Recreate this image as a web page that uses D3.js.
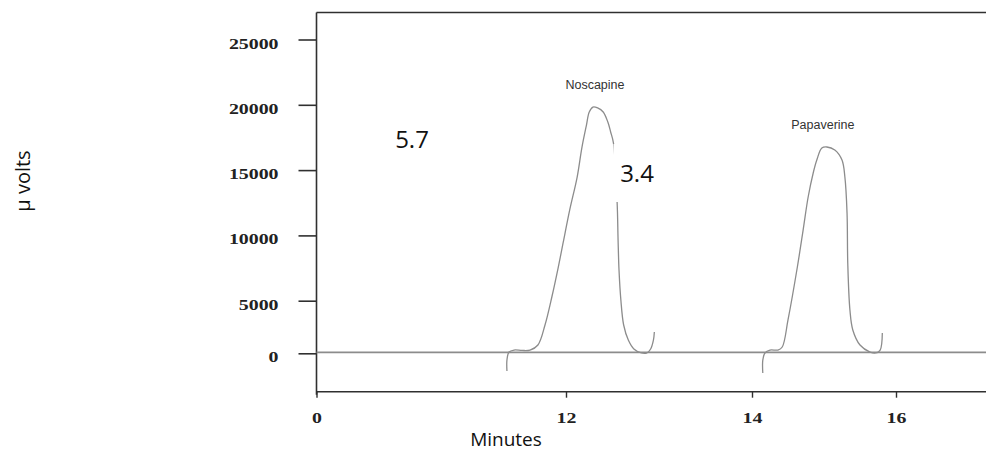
<!DOCTYPE html>
<html>
<head>
<meta charset="utf-8">
<script src="https://cdn.jsdelivr.net/npm/d3@7"></script>
<style>
  html, body { margin: 0; padding: 0; background: #ffffff; }
  svg { display: block; }
</style>
</head>
<body>
<svg id="chart" width="986" height="454"></svg>
<script>
// ---------------- DATA ----------------
const xTicks = [0, 12, 14, 16];
const yTicks = [0, 5000, 10000, 15000, 20000, 25000];
const xLabel = "Minutes";
const yLabel = "µ volts";

// baseline trace (minutes, µV)
const baselineTime = [0, 17.3];
const baselineVolt = [80, 80];

// Noscapine trace
const noscapineTime = [9.16, 9.16, 9.26, 9.50, 9.89, 10.27, 10.65, 10.99, 11.33, 11.62, 11.86,
  12.04, 12.12, 12.17, 12.22, 12.25, 12.29, 12.34, 12.40, 12.45, 12.48, 12.51, 12.55, 12.56,
  12.57, 12.59, 12.62, 12.67, 12.73, 12.81, 12.87, 12.91, 12.94, 12.95];
const noscapineVolt = [-1680, -640, 120, 310, 270, 310, 790, 2690, 5360, 7500, 9420,
  11950, 14470, 16690, 18450, 19450, 19830, 19760, 19450, 18680, 17920, 17080, 12480, 9650,
  7350, 5050, 2690, 1260, 410, 30, 30, 410, 1260, 2030];

// Papaverine trace
const papaverineTime = [14.15, 14.15, 14.18, 14.25, 14.36, 14.42, 14.50, 14.63, 14.71, 14.78,
  14.85, 14.90, 14.97, 15.04, 15.15, 15.25, 15.29, 15.32, 15.33, 15.36, 15.40, 15.50, 15.64,
  15.72, 15.78, 15.81];
const papaverineVolt = [-1870, -640, 30, 310, 310, 600, 3170, 7580, 10410, 12940,
  14780, 15770, 16690, 16770, 16540, 15770, 14470, 11720, 7890, 4120, 2220, 790, 120,
  30, 310, 1930];

const peakNames = ["Noscapine", "Papaverine"];
const peakTimes = [12.29, 15.04];
const peakVolts = [19830, 16770];

const annotations = ["5.7", "3.4"];

// ---------------- SCALES ----------------
const svg = d3.select("#chart");
// scanned chromatogram axis is not uniform: piecewise linear scales
const x = d3.scaleLinear()
  .domain([0, 12, 14, 16, 17.25])
  .range([316.5, 566, 752, 896, 986]);
const y = d3.scaleLinear()
  .domain([-3650, 0, 5000, 25000, 27067])
  .range([391.7, 353.3, 300.7, 39.5, 12.5]);

const xMin = 0, xMax = 17.3, yMin = -3650, yMax = 27067;

const frameColor = "#303030";
const traceColor = "#8c8c8c";
const stretch = 1.28;

// ---------------- FRAME ----------------
const frame = svg.append("g").attr("stroke", frameColor).attr("stroke-width", 1.6).attr("fill", "none");
frame.append("line").attr("x1", x(xMin)).attr("x2", x(xMin)).attr("y1", y(yMax)).attr("y2", y(yMin) + 3);
frame.append("line").attr("x1", x(xMin)).attr("x2", x(xMax)).attr("y1", y(yMax)).attr("y2", y(yMax));
frame.append("line").attr("x1", x(xMin)).attr("x2", x(xMax)).attr("y1", y(yMin)).attr("y2", y(yMin));

// ---------------- AXES ----------------
const tickFont = "'Liberation Serif', 'Times New Roman', serif";
const yTickSize = 18, yPad = 24;

const yAxis = svg.append("g")
  .attr("transform", `translate(${x(xMin)},0)`)
  .call(d3.axisLeft(y).tickValues(yTicks).tickSize(yTickSize).tickPadding(yPad).tickFormat(d3.format("d")));
yAxis.select(".domain").remove();
yAxis.selectAll(".tick line").attr("stroke", frameColor).attr("stroke-width", 1.6);
yAxis.selectAll(".tick text")
  .attr("font-family", tickFont).attr("font-weight", "bold").attr("font-size", 15.5)
  .attr("fill", "#222").attr("dy", "0.55em")
  .each(function () {
    const w = this.getComputedTextLength() * stretch;
    d3.select(this)
      .attr("text-anchor", "start")
      .attr("x", -(yTickSize + yPad) - w + 4)
      .attr("textLength", w).attr("lengthAdjust", "spacingAndGlyphs");
  });

const xAxis = svg.append("g")
  .attr("transform", `translate(0,${y(yMin)})`)
  .call(d3.axisBottom(x).tickValues(xTicks).tickSize(6).tickPadding(14).tickFormat(d3.format("d")));
xAxis.select(".domain").remove();
xAxis.selectAll(".tick line").attr("stroke", frameColor).attr("stroke-width", 1.4);
xAxis.selectAll(".tick text")
  .attr("font-family", tickFont).attr("font-weight", "bold").attr("font-size", 15.5)
  .attr("fill", "#222")
  .each(function () {
    const w = this.getComputedTextLength() * stretch;
    d3.select(this)
      .attr("text-anchor", "start")
      .attr("x", -w / 2)
      .attr("textLength", w).attr("lengthAdjust", "spacingAndGlyphs");
  });

// ---------------- TRACES ----------------
const line = d3.line()
  .x(d => x(d[0]))
  .y(d => y(d[1]))
  .curve(d3.curveCatmullRom.alpha(0.5));

const traces = [
  d3.zip(baselineTime, baselineVolt),
  d3.zip(noscapineTime, noscapineVolt),
  d3.zip(papaverineTime, papaverineVolt)
];

svg.append("g").selectAll("path")
  .data(traces)
  .join("path")
  .attr("d", line)
  .attr("fill", "none")
  .attr("stroke", traceColor)
  .attr("stroke-width", (d, i) => i === 0 ? 1.8 : 1.3)
  .attr("stroke-linejoin", "round");

// peak labels
svg.append("g").selectAll("text")
  .data(peakNames)
  .join("text")
  .attr("x", (d, i) => x(peakTimes[i]) + (i === 0 ? 2 : -4))
  .attr("y", (d, i) => y(peakVolts[i]) - 18)
  .attr("text-anchor", "middle")
  .attr("font-family", "'Liberation Sans', Arial, sans-serif")
  .attr("font-size", 12.5)
  .attr("fill", "#333")
  .text(d => d);

// ---------------- ANNOTATIONS ----------------
const annPos = [[412, 148], [637, 182]];
// white patch behind "3.4" (pasted label covers the trace)
svg.append("rect")
  .attr("x", 613.5).attr("y", 144).attr("width", 55).attr("height", 58)
  .attr("fill", "#ffffff");
svg.append("g").selectAll("text")
  .data(annotations)
  .join("text")
  .attr("x", (d, i) => annPos[i][0])
  .attr("y", (d, i) => annPos[i][1])
  .attr("text-anchor", "middle")
  .attr("font-family", "'Open Sans', 'Noto Sans', sans-serif")
  .attr("font-size", 24)
  .attr("fill", "#111")
  .text(d => d);

// axis titles
svg.append("text")
  .attr("x", 506).attr("y", 446)
  .attr("text-anchor", "middle")
  .attr("font-family", "'Open Sans', 'Noto Sans', sans-serif")
  .attr("font-size", 19)
  .attr("fill", "#111")
  .text(xLabel);

svg.append("text")
  .attr("transform", "translate(30,181) rotate(-90)")
  .attr("text-anchor", "middle")
  .attr("font-family", "'Open Sans', 'Noto Sans', sans-serif")
  .attr("font-size", 20)
  .attr("fill", "#111")
  .text(yLabel);
</script>
</body>
</html>
